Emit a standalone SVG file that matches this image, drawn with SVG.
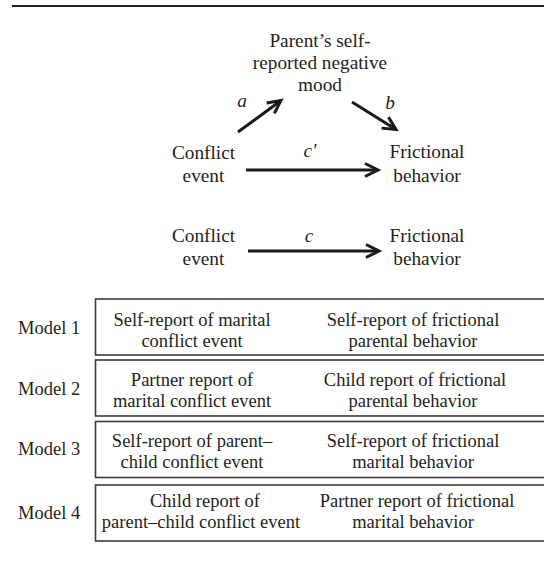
<svg xmlns="http://www.w3.org/2000/svg" width="544" height="561" viewBox="0 0 544 561">
<defs>
<style>
text{font-family:"Liberation Serif","Times New Roman",serif;fill:#231f20;}
.t{font-size:19.3px;text-anchor:middle;}
.i{font-size:19.3px;font-style:italic;text-anchor:middle;}
.b{font-size:18.5px;text-anchor:middle;}
.m{font-size:18.5px;}
.box{fill:none;stroke:#3a3a3a;stroke-width:1.6;}
.arr{stroke:#1a1a1a;stroke-width:3;fill:none;marker-end:url(#ah);}
</style>
<marker id="ah" markerUnits="userSpaceOnUse" viewBox="-16 -9 20 18" refX="0" refY="0" markerWidth="20" markerHeight="18" orient="auto">
<path d="M-13,-6.5 L0,0 L-13,6.5" fill="none" stroke="#1a1a1a" stroke-width="3"/>
</marker>
</defs>
<line x1="12" y1="6" x2="544" y2="6" stroke="#231f20" stroke-width="2"/>

<g id="mood">
<text class="t" x="320" y="47">Parent’s self-</text>
<text class="t" x="320" y="69">reported negative</text>
<text class="t" x="320" y="91">mood</text>
</g>
<g id="conflict1">
<text class="t" x="203.5" y="159">Conflict</text>
<text class="t" x="203.5" y="182">event</text>
</g>
<g id="frictional1">
<text class="t" x="427" y="158">Frictional</text>
<text class="t" x="427" y="182">behavior</text>
</g>
<g id="conflict2">
<text class="t" x="203.5" y="242">Conflict</text>
<text class="t" x="203.5" y="265">event</text>
</g>
<g id="frictional2">
<text class="t" x="427" y="242">Frictional</text>
<text class="t" x="427" y="265">behavior</text>
</g>

<g id="connectors">
<line class="arr" x1="238" y1="132" x2="281" y2="100.5"/>
<line class="arr" x1="352" y1="102" x2="396" y2="129.5"/>
<line class="arr" x1="246" y1="170" x2="378" y2="170"/>
<line class="arr" x1="248" y1="251" x2="379" y2="251"/>
<text class="i" x="242" y="107">a</text>
<text class="i" x="390" y="109">b</text>
<text class="i" x="310" y="157">c′</text>
<text class="i" x="309" y="242">c</text>
</g>

<g id="model1">
<text class="m" x="18" y="334">Model 1</text>
<rect class="box" x="95.5" y="299" width="460" height="56"/>
<text class="b" x="192" y="326">Self-report of marital</text>
<text class="b" x="192" y="347">conflict event</text>
<text class="b" x="413" y="326">Self-report of frictional</text>
<text class="b" x="413" y="347">parental behavior</text>
</g>
<g id="model2">
<text class="m" x="18" y="395">Model 2</text>
<rect class="box" x="95.5" y="360" width="460" height="56"/>
<text class="b" x="192" y="386">Partner report of</text>
<text class="b" x="192" y="407">marital conflict event</text>
<text class="b" x="415" y="386">Child report of frictional</text>
<text class="b" x="413" y="407">parental behavior</text>
</g>
<g id="model3">
<text class="m" x="18" y="455">Model 3</text>
<rect class="box" x="95.5" y="421.5" width="460" height="56"/>
<text class="b" x="192" y="447">Self-report of parent–</text>
<text class="b" x="192" y="468">child conflict event</text>
<text class="b" x="413" y="447">Self-report of frictional</text>
<text class="b" x="413" y="468">marital behavior</text>
</g>
<g id="model4">
<text class="m" x="18" y="519">Model 4</text>
<rect class="box" x="95.5" y="485" width="460" height="56"/>
<text class="b" x="205" y="507">Child report of</text>
<text class="b" x="201" y="528">parent–child conflict event</text>
<text class="b" x="417" y="507">Partner report of frictional</text>
<text class="b" x="413" y="528">marital behavior</text>
</g>
</svg>
